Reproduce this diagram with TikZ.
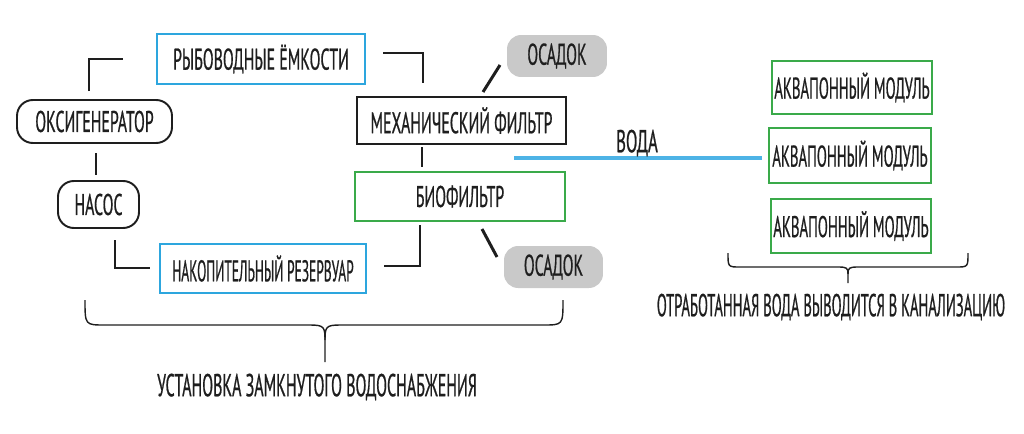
\documentclass[tikz,border=0pt]{standalone}
\usepackage{fontspec}
\setmainfont[FakeStretch=0.53, FakeBold=0.6]{PT Sans}
\definecolor{bluebox}{HTML}{2DA6DE}
\definecolor{greenbox}{HTML}{3AAA4A}
\definecolor{waterline}{HTML}{4DB3E6}
\definecolor{graybox}{HTML}{C9C9C9}
\definecolor{ink}{HTML}{1E1E1E}
\tikzset{
  base/.style={draw, line width=1.1pt, inner sep=0pt, align=center, text=ink,
    font=\fontsize{17}{18}\selectfont},
  blackbox/.style={base, draw=ink},
  roundbox/.style={base, draw=ink, rounded corners=9pt},
  bluenode/.style={base, draw=bluebox},
  greennode/.style={base, draw=greenbox},
  aquanode/.style={base, draw=greenbox, line width=1.6pt},
  sludge/.style={base, draw=none, fill=graybox, rounded corners=8pt},
  conn/.style={draw=ink, line width=1.7pt},
  water/.style={draw=waterline, line width=2.3pt},
  brace/.style={draw=ink, line width=0.8pt},
  caption/.style={text=ink, inner sep=0pt, font=\fontsize{18}{19}\selectfont}
}
\begin{document}
\begin{tikzpicture}[x=0.02cm, y=-0.02cm]
\useasboundingbox (0,0) rectangle (1024,433);
% boxes
\node[bluenode, minimum width=4.16cm, minimum height=1.0cm] (ryb) at (261,59) {РЫБОВОДНЫЕ ЁМКОСТИ};
\node[roundbox, minimum width=3.1cm, minimum height=0.86cm] (oksi) at (94.5,121.5) {ОКСИГЕНЕРАТОР};
\node[roundbox, minimum width=1.62cm, minimum height=0.94cm] (nasos) at (98.5,204.5) {НАСОС};
\node[bluenode, minimum width=4.12cm, minimum height=0.98cm] (nakop) at (263,268.5) {\scalebox{0.85}[1]{НАКОПИТЕЛЬНЫЙ РЕЗЕРВУАР}};
\node[blackbox, minimum width=4.18cm, minimum height=0.94cm] (mech) at (461.5,120.5) {МЕХАНИЧЕСКИЙ ФИЛЬТР};
\node[greennode, minimum width=4.2cm, minimum height=0.98cm] (bio) at (460,196.5) {БИОФИЛЬТР};
\node[sludge, minimum width=2.0cm, minimum height=0.84cm] (osa1) at (557,56) {ОСАДОК};
\node[sludge, minimum width=1.98cm, minimum height=0.84cm] (osa2) at (553.5,267) {ОСАДОК};
\node[aquanode, minimum width=3.2cm, minimum height=1.06cm] (aq1) at (852,87.5) {\scalebox{0.93}[1]{АКВАПОННЫЙ МОДУЛЬ}};
\node[aquanode, minimum width=3.24cm, minimum height=1.1cm] (aq2) at (850,155.5) {\scalebox{0.93}[1]{АКВАПОННЫЙ МОДУЛЬ}};
\node[aquanode, minimum width=3.2cm, minimum height=1.08cm] (aq3) at (851,226) {\scalebox{0.93}[1]{АКВАПОННЫЙ МОДУЛЬ}};
% connector end points
\coordinate (c1a) at (89,91);  \coordinate (c1b) at (89,59);  \coordinate (c1c) at (123,59);
\coordinate (c2a) at (383,53); \coordinate (c2b) at (423,53); \coordinate (c2c) at (423,83);
\coordinate (c3a) at (96,153); \coordinate (c3b) at (96,175);
\coordinate (c4a) at (422,147); \coordinate (c4b) at (422,167);
\coordinate (c5a) at (483,92); \coordinate (c5b) at (500,65);
\coordinate (c6a) at (115,240); \coordinate (c6b) at (115,268); \coordinate (c6c) at (150,268);
\coordinate (c7a) at (384,266); \coordinate (c7b) at (420,266); \coordinate (c7c) at (420,225);
\coordinate (c8a) at (482,229); \coordinate (c8b) at (497,257);
\coordinate (wa) at (514,158); \coordinate (wb) at (762,158);
% connectors
\draw[conn] (c1a) -- (c1b) -- (c1c);
\draw[conn] (c2a) -- (c2b) -- (c2c);
\draw[conn] (c3a) -- (c3b);
\draw[conn] (c4a) -- (c4b);
\draw[conn] (c5a) -- (c5b);
\draw[conn] (c6a) -- (c6b) -- (c6c);
\draw[conn] (c7a) -- (c7b) -- (c7c);
\draw[conn] (c8a) -- (c8b);
\draw[water] (wa) -- (wb);
\node[caption] (voda) at (637,143) {ВОДА};
% braces
\coordinate (b1l) at (85,300); \coordinate (b1r) at (563,300); \coordinate (b1t) at (325,362);
\draw[brace] (b1l) .. controls (85,325) and (85,325) .. (105,325) -- (310,325)
  .. controls (324,325) and (325,327) .. (325,340) -- (b1t);
\draw[brace] (b1r) .. controls (563,325) and (563,325) .. (543,325) -- (340,325)
  .. controls (326,325) and (325,327) .. (325,340);
\node[caption] (inst) at (317,387) {\scalebox{0.95}[1]{УСТАНОВКА ЗАМКНУТОГО ВОДОСНАБЖЕНИЯ}};
\coordinate (b2l) at (728,253); \coordinate (b2r) at (968,253); \coordinate (b2t) at (848,283);
\draw[brace] (b2l) .. controls (728,267) and (728,267) .. (740,267) -- (838,267)
  .. controls (847,267) and (848,268) .. (848,274) -- (b2t);
\draw[brace] (b2r) .. controls (968,267) and (968,267) .. (956,267) -- (858,267)
  .. controls (849,267) and (848,268) .. (848,274);
\node[caption] (waste) at (831,307) {\scalebox{0.87}[1]{ОТРАБОТАННАЯ ВОДА ВЫВОДИТСЯ В КАНАЛИЗАЦИЮ}};
\end{tikzpicture}
\end{document}
